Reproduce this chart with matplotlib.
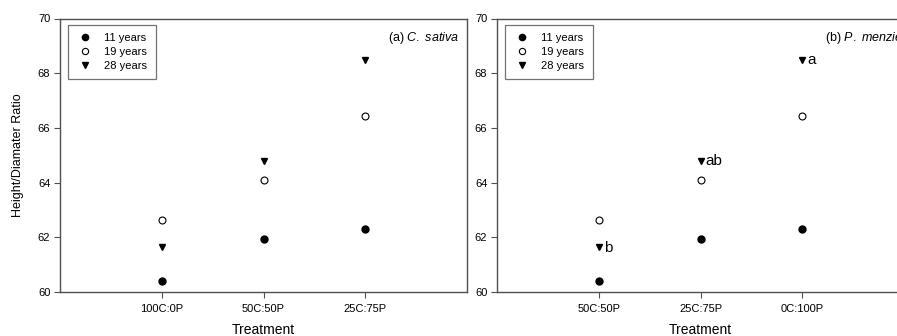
import matplotlib
matplotlib.use("Agg")
import matplotlib.pyplot as plt

plt.rcParams['font.family'] = ['Liberation Sans', 'DejaVu Sans']
plt.rcParams['mathtext.fontset'] = 'custom'
plt.rcParams['mathtext.it'] = 'Liberation Sans:italic'
plt.rcParams['mathtext.rm'] = 'Liberation Sans'

cats_a = ["100C:0P", "50C:50P", "25C:75P"]
cats_b = ["50C:50P", "25C:75P", "0C:100P"]
y11 = [60.42, 61.93, 62.29]
y19 = [62.65, 64.10, 66.45]
y28 = [61.65, 64.80, 68.50]
letters_b = ["b", "ab", "a"]
series_labels = ["11 years", "19 years", "28 years"]

fig = plt.figure(figsize=(8.97, 3.36), dpi=100)
W, H = 897, 336
ax1 = fig.add_axes([60/W, (H-292)/H, 407/W, (292-18.5)/H])
ax2 = fig.add_axes([497/W, (H-292)/H, 407/W, (292-18.5)/H])

spine_c = "#505050"
for ax, cats, title in [(ax1, cats_a, r"(a) $\it{C.\ sativa}$"),
                        (ax2, cats_b, r"(b) $\it{P.\ menziesii}$")]:
    x = list(range(1, len(cats) + 1))
    ax.plot(x, y11, 'o', color='black', markersize=5, linestyle='none', label=series_labels[0])
    ax.plot(x, y19, 'o', markerfacecolor='white', markeredgecolor='black', markeredgewidth=0.8,
            markersize=5, linestyle='none', label=series_labels[1])
    ax.plot(x, y28, 'v', color='black', markersize=5, linestyle='none', label=series_labels[2])
    ax.set_xlim(0, 4)
    ax.set_ylim(60, 70)
    ax.set_xticks(x)
    ax.set_xticklabels(cats, fontsize=8)
    ax.set_yticks([60, 62, 64, 66, 68, 70])
    ax.tick_params(axis='y', labelsize=8, direction='out', length=4, width=0.8, color=spine_c, pad=3)
    ax.tick_params(axis='x', direction='out', length=4, width=0.8, color=spine_c, pad=5)
    for s in ax.spines.values():
        s.set_color(spine_c)
        s.set_linewidth(1.0)
    ax.set_xlabel("Treatment", fontsize=10, labelpad=6)
    ax.text(328/407, 0.93, title, transform=ax.transAxes, fontsize=9, ha='left', va='center')
    leg = ax.legend(loc='upper left', bbox_to_anchor=(0.02, 0.978), borderaxespad=0,
                    fontsize=8, frameon=True, fancybox=False, edgecolor=spine_c,
                    handletextpad=1.0, labelspacing=0.35, borderpad=0.75, handlelength=1.5,
                    markerscale=0.9)
    leg.get_frame().set_linewidth(0.9)

for xi, yi, t in zip(range(1, 4), y28, letters_b):
    ax2.annotate(t, (xi, yi), xytext=(3.5, -0.5), textcoords='offset points',
                 fontsize=11, ha='left', va='center')

ax1.set_ylabel("Height/Diamater Ratio", fontsize=9, labelpad=10)

fig.savefig("out.png", dpi=100)
